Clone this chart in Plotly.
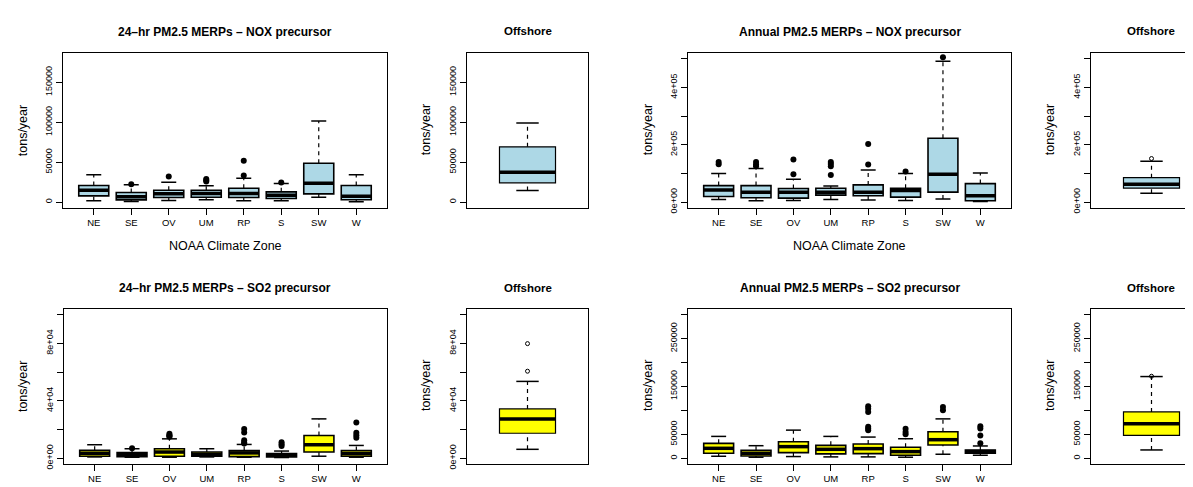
import plotly.graph_objects as go

W, H = 1193, 487

zones = ["NE", "SE", "OV", "UM", "RP", "S", "SW", "W"]

# ---- 24-hr PM2.5 MERPs - NOX precursor ----
nox24_lo = [1700, 800, 2000, 2900, 1700, 1700, 6250, 500]
nox24_q1 = [7900, 2900, 5800, 6200, 5800, 4600, 10400, 3000]
nox24_med = [15000, 6700, 10400, 10800, 10800, 8800, 23750, 7500]
nox24_q3 = [20800, 12100, 15000, 15000, 17500, 12900, 48750, 20800]
nox24_hi = [34200, 21700, 25000, 20400, 30000, 23300, 101700, 34200]
nox24_out = [[], [22500], [32000], [26000, 27500, 29000], [33300, 51700], [24600], [], []]
nox24_off = dict(lo=14600, q1=24200, med=37500, q3=69200, hi=99200, out=[])

# ---- Annual PM2.5 MERPs - NOX precursor ----
noxan_lo = [9200, 4600, 5800, 9200, 6900, 5800, 10400, 2300]
noxan_q1 = [19600, 15000, 13800, 24200, 21900, 17300, 34600, 4600]
noxan_med = [42600, 34600, 34600, 34600, 34600, 40300, 96800, 21900]
noxan_q3 = [57600, 57600, 47200, 48400, 59900, 48400, 223000, 64500]
noxan_hi = [100000, 117500, 79500, 56400, 111700, 100000, 491900, 101400]
noxan_out = [[132000, 140000], [125000, 131000, 140000], [96800, 148600],
             [94500, 125000, 133000, 140000], [131300, 202800], [107000], [505700], []]
noxan_off = dict(lo=31100, q1=48400, med=62200, q3=85200, hi=142800, out=[152000])

# ---- 24-hr PM2.5 MERPs - SO2 precursor ----
so224_lo = [900, 700, 700, 900, 700, 500, 1400, 700]
so224_q1 = [1400, 1100, 1400, 1400, 1100, 900, 4300, 1400]
so224_med = [3400, 2500, 4300, 2700, 3700, 2100, 9400, 3200]
so224_q3 = [5500, 3900, 6600, 4300, 5300, 3200, 15800, 5300]
so224_hi = [9400, 6600, 13500, 6600, 9600, 5000, 27400, 8900]
so224_out = [[], [6900], [15000, 15500, 16000, 17000], [], [10300, 11000, 12600, 18000, 20300],
             [8500, 9800, 11200], [], [14200, 16000, 17800, 24900]]
so224_off = dict(lo=6200, q1=17400, med=27400, q3=34300, hi=53500, out=[60600, 79800])

# ---- Annual PM2.5 MERPs - SO2 precursor ----
so2an_lo = [4100, 2100, 3500, 2800, 2800, 2100, 8300, 6200]
so2an_q1 = [10400, 4800, 11700, 9000, 9700, 6200, 27600, 10400]
so2an_med = [20700, 10400, 24200, 18600, 20000, 13800, 38700, 13800]
so2an_q3 = [31100, 16600, 34500, 26900, 29700, 22800, 55200, 17300]
so2an_hi = [45600, 26200, 58700, 45600, 44200, 40700, 82200, 25600]
so2an_out = [[], [], [], [], [58700, 62000, 66000, 96700, 103600, 108400],
             [50000, 55000, 61500], [100000, 107000], [31100, 47700, 62200, 67000]]
so2an_off = dict(lo=17300, q1=47700, med=71800, q3=96700, hi=170600, out=[171300])

titles = ["24\u2013hr PM2.5 MERPs \u2013 NOX precursor", "Annual PM2.5 MERPs \u2013 NOX precursor",
          "24\u2013hr PM2.5 MERPs \u2013 SO2 precursor", "Annual PM2.5 MERPs \u2013 SO2 precursor"]

# y-axis ticks
yt_nox24 = [0, 50000, 100000, 150000]
yl_nox24 = ["0", "50000", "100000", "150000"]
yt_noxan = [0, 100000, 200000, 300000, 400000, 500000]
yl_noxan = ["0e+00", "", "2e+05", "", "4e+05", ""]
yt_so224 = [0, 20000, 40000, 60000, 80000, 100000]
yl_so224 = ["0e+00", "", "4e+04", "", "8e+04", ""]
yt_so2an = [0, 50000, 100000, 150000, 200000, 250000, 300000]
yl_so2an = ["0", "50000", "", "150000", "", "250000", ""]

BLUE = "#ADD8E6"
YEL = "#FFFF00"
FONT = "Liberation Sans"

fig = go.Figure()
layout = {}
annotations = []

TOP = (45, 202)
BOT = (304, 460.7)

def ydom(r):
    return [1 - r[1] / H, 1 - r[0] / H]

def add_panel(idx, xpx, ypx, xs, lo, q1, med, q3, hi, outs, color, bw, cap, xrange,
              yrange, ytv, ytt, main, open_pts, mirror_y=True):
    xa = "x" if idx == 1 else f"x{idx}"
    ya = "y" if idx == 1 else f"y{idx}"
    fig.add_trace(go.Box(x=xs, q1=q1, median=med, q3=q3, lowerfence=q1, upperfence=q3,
                         width=bw, fillcolor=color,
                         line=dict(color="black", width=1.6 if main else 1.2),
                         boxpoints=False, whiskerwidth=0, xaxis=xa, yaxis=ya,
                         showlegend=False, hoverinfo="skip"))
    # whiskers (dashed)
    wx, wy = [], []
    for i, x in enumerate(xs):
        wx += [x, x, None, x, x, None]
        wy += [q3[i], hi[i], None, lo[i], q1[i], None]
    fig.add_trace(go.Scatter(x=wx, y=wy, mode="lines", line=dict(color="black", width=1.2, dash="4px,4px"),
                             xaxis=xa, yaxis=ya, showlegend=False, hoverinfo="skip"))
    # caps
    cx, cy = [], []
    for i, x in enumerate(xs):
        cx += [x - cap, x + cap, None, x - cap, x + cap, None]
        cy += [hi[i], hi[i], None, lo[i], lo[i], None]
    fig.add_trace(go.Scatter(x=cx, y=cy, mode="lines", line=dict(color="black", width=1.5),
                             xaxis=xa, yaxis=ya, showlegend=False, hoverinfo="skip"))
    # medians
    mx, my = [], []
    for i, x in enumerate(xs):
        mx += [x - bw / 2, x + bw / 2, None]
        my += [med[i], med[i], None]
    fig.add_trace(go.Scatter(x=mx, y=my, mode="lines", line=dict(color="black", width=3.5),
                             xaxis=xa, yaxis=ya, showlegend=False, hoverinfo="skip"))
    # outliers
    ox, oy = [], []
    for i, x in enumerate(xs):
        for v in outs[i]:
            ox.append(x)
            oy.append(v)
    if ox:
        if open_pts:
            mk = dict(symbol="circle-open", size=4, color="black", line=dict(width=1))
        else:
            mk = dict(symbol="circle", size=6, color="black")
        fig.add_trace(go.Scatter(x=ox, y=oy, mode="markers", marker=mk,
                                 xaxis=xa, yaxis=ya, showlegend=False, hoverinfo="skip"))
    xkey = "xaxis" if idx == 1 else f"xaxis{idx}"
    ykey = "yaxis" if idx == 1 else f"yaxis{idx}"
    layout[xkey] = dict(domain=[xpx[0] / W, min(xpx[1] / W, 1.0)], anchor=ya, range=xrange,
                        showgrid=False, zeroline=False, showline=True, mirror=True,
                        linecolor="black", linewidth=1,
                        tickvals=xs if main else [], ticktext=zones if main else [],
                        ticks="outside" if main else "", ticklen=6, tickcolor="black",
                        showticklabels=main,
                        tickfont=dict(family=FONT, size=9.5, color="black"))
    layout[ykey] = dict(domain=ydom(ypx), anchor=xa, range=yrange, showgrid=False, zeroline=False,
                        showline=True, mirror=mirror_y, linecolor="black", linewidth=1,
                        tickvals=ytv, ticktext=ytt, ticks="outside", ticklen=6, tickcolor="black",
                        tickangle=-90, tickfont=dict(family=FONT, size=9, color="black"))

pos = list(range(1, len(zones) + 1))
MAINR = [0.18, 8.82]
OFFR = [0.46, 1.54]
OFFR_CUT = [0.46, 0.46 + 110 / (121 / 1.08)]

def off(d):
    return ([d["lo"]], [d["q1"]], [d["med"]], [d["q3"]], [d["hi"]], [d["out"]])

# Top row
add_panel(1, (55, 379), TOP, pos, nox24_lo, nox24_q1, nox24_med, nox24_q3, nox24_hi, nox24_out,
          BLUE, 0.8, 0.2, MAINR, [-7200, 187200], yt_nox24, yl_nox24, True, False)
add_panel(2, (459, 580), TOP, [1], *off(nox24_off), BLUE, 0.5, 0.1, OFFR,
          [-7200, 187200], yt_nox24, yl_nox24, False, True)
add_panel(3, (680, 1003), TOP, pos, noxan_lo, noxan_q1, noxan_med, noxan_q3, noxan_hi, noxan_out,
          BLUE, 0.8, 0.2, MAINR, [-20400, 522000], yt_noxan, yl_noxan, True, False)
add_panel(4, (1083, 1193), TOP, [1], *off(noxan_off), BLUE, 0.5, 0.1, OFFR_CUT,
          [-20400, 522000], yt_noxan, yl_noxan, False, True, mirror_y=False)
# Bottom row
add_panel(5, (56, 379), BOT, pos, so224_lo, so224_q1, so224_med, so224_q3, so224_hi, so224_out,
          YEL, 0.8, 0.2, MAINR, [-4000, 104000], yt_so224, yl_so224, True, False)
add_panel(6, (459, 580), BOT, [1], *off(so224_off), YEL, 0.5, 0.1, OFFR,
          [-4000, 104000], yt_so224, yl_so224, False, True)
add_panel(7, (680, 1003), BOT, pos, so2an_lo, so2an_q1, so2an_med, so2an_q3, so2an_hi, so2an_out,
          YEL, 0.8, 0.2, MAINR, [-12000, 312000], yt_so2an, yl_so2an, True, False)
add_panel(8, (1083, 1193), BOT, [1], *off(so2an_off), YEL, 0.5, 0.1, OFFR_CUT,
          [-12000, 312000], yt_so2an, yl_so2an, False, True, mirror_y=False)

def ann(text, xpx, ypx, size, bold=False, angle=0):
    annotations.append(dict(text=f"<b>{text}</b>" if bold else text, x=xpx / W, y=1 - ypx / H,
                            xref="paper", yref="paper", showarrow=False, textangle=angle,
                            xanchor="center", yanchor="middle",
                            font=dict(family=FONT, size=size, color="black")))

ann(titles[0], 217, 24, 12, True)
ann("Offshore", 519.5, 23.5, 11.5, True)
ann(titles[1], 841.5, 24, 12, True)
ann("Offshore", 1143, 23.5, 11.5, True)
ann(titles[2], 217, 283, 12, True)
ann("Offshore", 519.5, 282.5, 11.5, True)
ann(titles[3], 841.5, 283, 12, True)
ann("Offshore", 1143, 282.5, 11.5, True)

for xp in (15, 418, 640, 1042):
    ann("tons/year", xp, 123.5, 12.5, angle=-90)
    ann("tons/year", xp, 382, 12.5, angle=-90)

ann("NOAA Climate Zone", 217, 240, 12.5)
ann("NOAA Climate Zone", 841.5, 240, 12.5)

fig.update_layout(width=W, height=H, autosize=False, margin=dict(l=0, r=0, t=0, b=0),
                  paper_bgcolor="white", plot_bgcolor="white", showlegend=False,
                  annotations=annotations, boxmode="overlay", **layout)

fig.write_html("out.html")
